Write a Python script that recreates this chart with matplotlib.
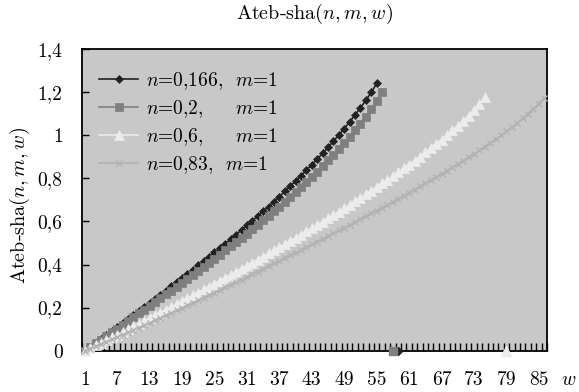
import matplotlib
matplotlib.use("Agg")
import matplotlib.pyplot as plt
import numpy as np

plt.rcParams['font.family'] = ['cmr10', 'DejaVu Serif']
plt.rcParams['mathtext.fontset'] = 'cm'
plt.rcParams['axes.formatter.use_mathtext'] = True

# ---- data ----
s1 = [0, 0.018, 0.037, 0.055, 0.074, 0.092, 0.110, 0.129, 0.147, 0.166,
      0.185, 0.203, 0.222, 0.241, 0.260, 0.279, 0.298, 0.317, 0.336, 0.356,
      0.376, 0.396, 0.416, 0.436, 0.456, 0.477, 0.497, 0.518, 0.539, 0.560,
      0.581, 0.603, 0.625, 0.647, 0.669, 0.692, 0.715, 0.739, 0.763, 0.787,
      0.812, 0.837, 0.863, 0.889, 0.916, 0.944, 0.972, 1.001, 1.031, 1.062,
      1.094, 1.127, 1.162, 1.199, 1.240]
s2 = [0, 0.017, 0.035, 0.051, 0.069, 0.086, 0.103, 0.121, 0.137, 0.155,
      0.173, 0.190, 0.208, 0.225, 0.243, 0.261, 0.279, 0.296, 0.314, 0.333,
      0.352, 0.370, 0.389, 0.408, 0.426, 0.446, 0.465, 0.484, 0.504, 0.524,
      0.543, 0.564, 0.584, 0.605, 0.626, 0.647, 0.669, 0.691, 0.713, 0.736,
      0.759, 0.783, 0.807, 0.831, 0.856, 0.883, 0.909, 0.936, 0.964, 0.993,
      1.023, 1.054, 1.086, 1.121, 1.159, 1.200]
s3 = [0, 0.012, 0.025, 0.037, 0.050, 0.062, 0.075, 0.087, 0.100, 0.113,
      0.125, 0.138, 0.151, 0.164, 0.177, 0.190, 0.203, 0.216, 0.230, 0.243,
      0.257, 0.270, 0.284, 0.297, 0.311, 0.325, 0.339, 0.353, 0.367, 0.381,
      0.395, 0.409, 0.423, 0.437, 0.452, 0.466, 0.481, 0.495, 0.510, 0.524,
      0.539, 0.554, 0.569, 0.584, 0.599, 0.614, 0.629, 0.645, 0.661, 0.677,
      0.693, 0.709, 0.725, 0.742, 0.759, 0.776, 0.793, 0.810, 0.828, 0.846,
      0.864, 0.882, 0.901, 0.920, 0.940, 0.960, 0.980, 1.001, 1.022, 1.044,
      1.067, 1.091, 1.116, 1.143, 1.175]
s4 = [0, 0.010, 0.020, 0.031, 0.042, 0.052, 0.063, 0.074, 0.085, 0.096,
      0.107, 0.118, 0.129, 0.141, 0.152, 0.164, 0.175, 0.187, 0.198, 0.210,
      0.222, 0.234, 0.246, 0.258, 0.270, 0.282, 0.294, 0.306, 0.318, 0.330,
      0.342, 0.355, 0.367, 0.380, 0.392, 0.405, 0.417, 0.430, 0.442, 0.455,
      0.468, 0.480, 0.493, 0.506, 0.519, 0.532, 0.545, 0.558, 0.571, 0.584,
      0.597, 0.610, 0.624, 0.637, 0.650, 0.664, 0.678, 0.692, 0.706, 0.720,
      0.734, 0.748, 0.762, 0.777, 0.791, 0.806, 0.821, 0.836, 0.851, 0.866,
      0.882, 0.898, 0.914, 0.930, 0.947, 0.964, 0.981, 0.999, 1.018, 1.037,
      1.057, 1.078, 1.100, 1.123, 1.147, 1.172]
series = [s1, s2, s3, s4]
zero_cat = [59, 58, 79, None]          # isolated zero points after each curve
labels = [r'$n$=0,166,  $m$=1', r'$n$=0,2,     $m$=1',
          r'$n$=0,6,     $m$=1', r'$n$=0,83,  $m$=1']
n_categories = 86
xtick_labels = [str(v) for v in range(1, 86, 6)]
ytick_values = [0, 0.2, 0.4, 0.6, 0.8, 1.0, 1.2, 1.4]
ytick_labels = ['0', '0,2', '0,4', '0,6', '0,8', '1', '1,2', '1,4']

# ---- styles ----
colors = ['#222222', '#7f7f7f', '#ececec', '#b2b2b2']
markers = ['D', 's', '^', 'x']
msizes = [4.5, 6, 6.5, 5]

fig = plt.figure(figsize=(5.79, 3.92), dpi=100)
ax = fig.add_axes([82/579, 1-350.7/392, 465/579, (350.7-49)/392])
ax.set_facecolor('#c8c8c8')

for s, zc, c, m, ms, lab in zip(series, zero_cat, colors, markers, msizes, labels):
    x = np.arange(1, len(s)+1)
    ax.plot(x, s, color=c, marker=m, markersize=ms, lw=1.2, label=lab,
            markeredgecolor=c, markerfacecolor=c, markeredgewidth=1.0 if m == 'x' else 0.5,
            clip_on=False, zorder=3)
    if zc is not None:
        ax.plot([zc], [0], color=c, marker=m, markersize=ms, lw=0,
                markeredgecolor=c, markerfacecolor=c, clip_on=False, zorder=3)

ax.set_xlim(0.5, n_categories + 0.5)
ax.set_ylim(0, 1.4)

ax.set_xticks(np.arange(0.5, n_categories + 1, 1))
ax.set_xticklabels([])
ax.set_xticks(np.arange(1, 86, 6), minor=True)
ax.set_xticklabels(xtick_labels, minor=True)
ax.tick_params(axis='x', which='major', direction='in', length=6, width=1.0, color='black')
ax.tick_params(axis='x', which='minor', length=0, pad=15, labelsize=14)

ax.set_yticks(ytick_values)
ax.set_yticklabels(ytick_labels)
ax.tick_params(axis='y', direction='in', length=5, width=1.0, pad=14, labelsize=14)

for sp in ax.spines.values():
    sp.set_color('black')
    sp.set_linewidth(1.3)

ax.set_title(r'Ateb-sha$(n,m,w)$', fontsize=14.5, pad=22)
ax.set_ylabel(r'Ateb-sha$(n,m,w)$', fontsize=14.5)
ax.yaxis.set_label_coords(-0.108, 0.48)
fig.text(569/579, 1-380/392, r'$w$', fontsize=14, ha='center', va='center')

leg = ax.legend(loc='upper left', frameon=False, fontsize=14, handlelength=2.0,
                handletextpad=0.4, labelspacing=0.32, borderaxespad=0.0,
                bbox_to_anchor=(0.02, 0.955))

fig.savefig('out.png', dpi=100)
